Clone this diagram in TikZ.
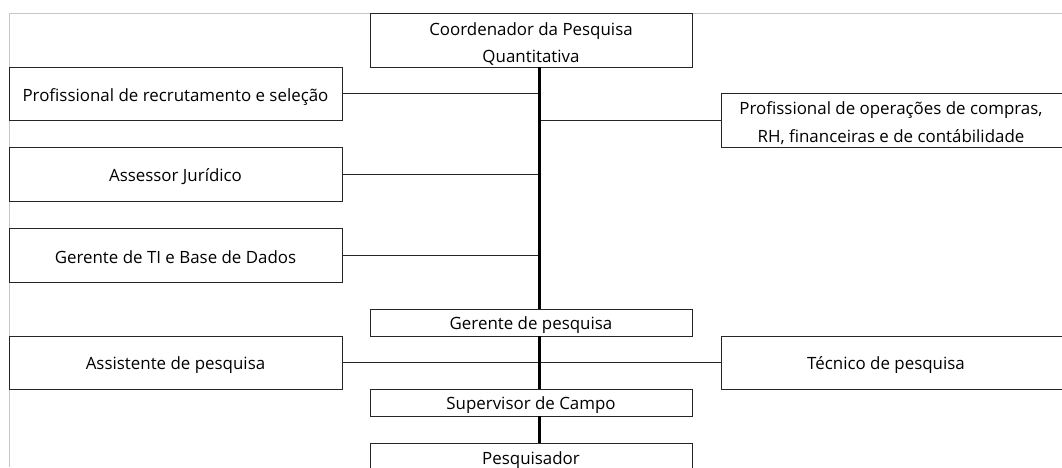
\documentclass[tikz,border=0pt]{standalone}
\usepackage{fontspec}
\setmainfont{Open Sans}
\begin{document}
\begin{tikzpicture}[x=1pt,y=-1pt,
  box/.style={draw=black!85,line width=0.9pt,inner sep=0pt,minimum width=#1},
  box/.default=333,
  txt/.style={font=\fontsize{16.9}{27.5}\selectfont,inner sep=0pt,align=center},
  link/.style={draw=black!85,line width=1pt},
  spinel/.style={draw=black,line width=2.4pt},
  frame/.style={draw=black!22,line width=0.8pt}]
\useasboundingbox (0,0) rectangle (1062,467);
\clip (0,0) rectangle (1062,467);
\fill[white] (0,0) rectangle (1062,467);
\draw[frame] (1062,13) -- (9,13) -- (9,467);
\coordinate (spine) at (539.5,0);
% boxes
\node[box=322,minimum height=54] (coord) at (531,40) {};
\node[box,minimum height=53] (rec) at (175.5,93.5) {};
\node[box=354,minimum height=54] (ops) at (898,120) {};
\node[box,minimum height=54] (jur) at (175.5,174) {};
\node[box,minimum height=54] (ti) at (175.5,255) {};
\node[box=322,minimum height=27] (gp) at (531,322.5) {};
\node[box,minimum height=53] (ass) at (175.5,362.5) {};
\node[box=354,minimum height=53] (tec) at (898,362.5) {};
\node[box=322,minimum height=27] (sup) at (531,402.5) {};
\node[box=322,minimum height=40] (pes) at (531,463) {};
% texts
\node[txt] (tcoord) at (531,44) {Coordenador da Pesquisa\\Quantitativa};
\node[txt] (trec) at (175.5,97) {Profissional de recrutamento e seleção};
\node[txt] (tops) at (891,123) {Profissional de operações de compras,\\RH, financeiras e de contábilidade};
\node[txt] (tjur) at (175.5,177) {Assessor Jurídico};
\node[txt] (tti) at (175.5,257) {Gerente de TI e Base de Dados};
\node[txt] (tgp) at (531,325) {Gerente de pesquisa};
\node[txt] (tass) at (175.5,365) {Assistente de pesquisa};
\node[txt] (ttec) at (886,365) {Técnico de pesquisa};
\node[txt] (tsup) at (531,405) {Supervisor de Campo};
\node[txt] (tpes) at (531,460) {Pesquisador};
% connectors
\draw[link] (rec.east) -- (spine |- rec.east);
\draw[link] (spine |- ops.west) -- (ops.west);
\draw[link] (jur.east) -- (spine |- jur.east);
\draw[link] (ti.east) -- (spine |- ti.east);
\draw[link] (ass.east) -- (tec.west);
\draw[spinel] (spine |- coord.south) -- (spine |- gp.north);
\draw[spinel] (spine |- gp.south) -- (spine |- sup.north);
\draw[spinel] (spine |- sup.south) -- (spine |- pes.north);
\end{tikzpicture}
\end{document}
